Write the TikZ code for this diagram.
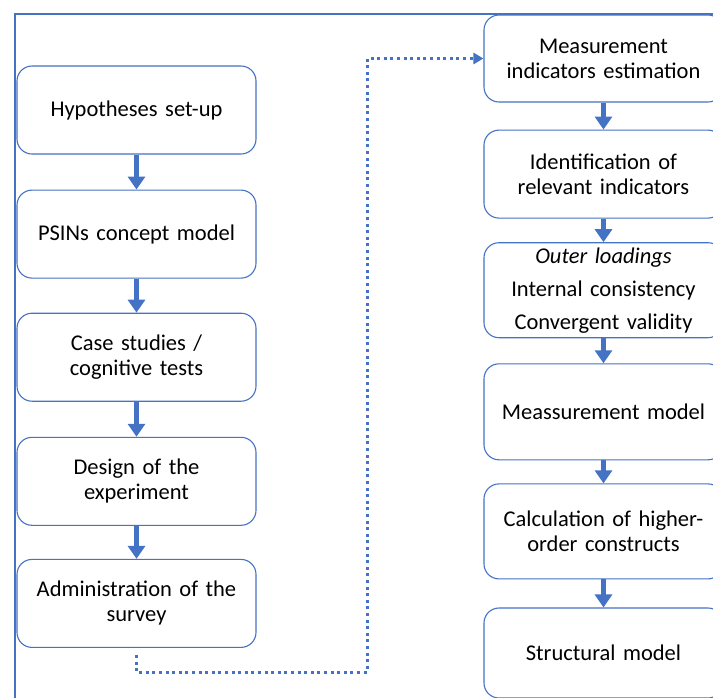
\documentclass[tikz,border=0pt]{standalone}
\usepackage{fontspec}
\setmainfont{Carlito}
\usepackage{tikz}
\usetikzlibrary{arrows.meta}
\usetikzlibrary{positioning}

\definecolor{officeblue}{RGB}{68,114,196}

\tikzset{
	box/.style={draw=officeblue, line width=1.1pt, rounded corners=15pt, fill=white,
		minimum width=239pt, minimum height=88pt, text width=230pt, align=center,
		inner sep=2pt, font=\fontsize{22.5}{25}\selectfont},
	thick arrow/.style={draw=officeblue, line width=5pt, -{Triangle[width=17pt,length=13pt]}},
	dotconn/.style={draw=officeblue, line width=3pt, dash pattern=on 3pt off 3.6pt,
		-{Triangle[width=11pt,length=10pt]}},
	frame/.style={draw=officeblue, line width=1.8pt}
}

\begin{document}
\begin{tikzpicture}[x=1pt,y=-1pt]

	\useasboundingbox (0,0) rectangle (713,697);
	\clip (0,0) rectangle (713,697);

	% frame, cut by the page
	\draw[frame] (15,14) rectangle (780,780);

	% left column
	\node[box] (hyp) at (136.5,110) {Hypotheses set-up};
	\node[box, below=35pt of hyp] (psin) {PSINs concept model};
	\node[box, below=34pt of psin] (case) {Case studies /\\ cognitive tests};
	\node[box, below=35pt of case] (design) {Design of the\\ experiment};
	\node[box, below=33pt of design] (admin) {Administration of the\\ survey};

	% right column
	\node[box, minimum height=87pt] (meas) at (603.5,58.5) {Measurement\\ indicators estimation};
	\node[box, below=27pt of meas] (ident) {Identification of\\ relevant indicators};
	\node[box, below=23.5pt of ident, minimum height=95pt] (outer)
		{\textit{Outer loadings}\\[8pt] Internal consistency\\[8pt] Convergent validity};
	\node[box, below=25pt of outer, minimum height=96pt] (mmodel) {Meassurement model};
	\node[box, below=23pt of mmodel, minimum height=95pt] (calc) {Calculation of higher-\\ order constructs};
	\node[box, below=28pt of calc, minimum height=90pt] (struct) {Structural model};

	% arrows
	\draw[thick arrow] (hyp) -- (psin);
	\draw[thick arrow] (psin) -- (case);
	\draw[thick arrow] (case) -- (design);
	\draw[thick arrow] (design) -- (admin);

	\draw[thick arrow] (meas) -- (ident);
	\draw[thick arrow] (ident) -- (outer);
	\draw[thick arrow] (outer) -- (mmodel);
	\draw[thick arrow] (mmodel) -- (calc);
	\draw[thick arrow] (calc) -- (struct);

	% dotted link between the columns
	\coordinate (start) at ([yshift=-7pt]admin.south);
	\coordinate (turn) at (367,672);
	\draw[dotconn] (start) |- (turn) |- (meas.west);

\end{tikzpicture}
\end{document}
